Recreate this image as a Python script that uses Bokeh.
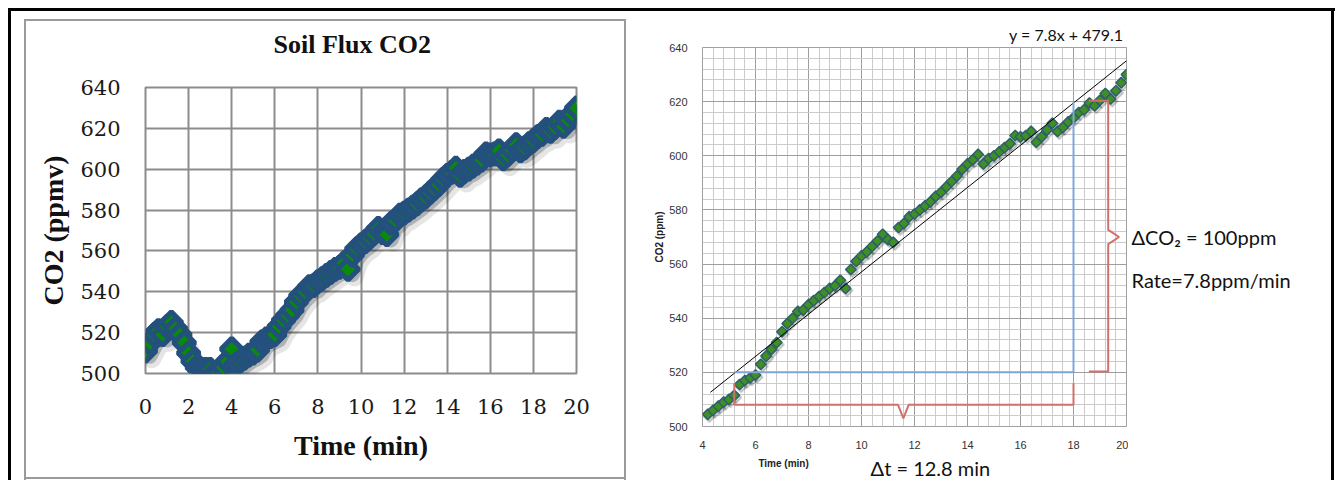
import math
from bokeh.plotting import figure
from bokeh.models import ColumnDataSource, SingleIntervalTicker, Range1d
from bokeh.layouts import row, column
from bokeh.transform import dodge
from bokeh.core.properties import value
from bokeh.embed import file_html
from bokeh.resources import INLINE

# ---------------- data ----------------
time_min = [
    0.0, 0.2, 0.4, 0.6, 0.8, 1.0, 1.2, 1.4, 1.6, 1.8,
    2.0, 2.2, 2.4, 2.6, 2.8, 3.0, 3.2, 3.4, 3.6, 3.8,
    4.0, 4.2, 4.4, 4.6, 4.8, 5.0, 5.2, 5.4, 5.6, 5.8,
    6.0, 6.2, 6.4, 6.6, 6.8, 7.0, 7.2, 7.4, 7.6, 7.8,
    8.0, 8.2, 8.4, 8.6, 8.8, 9.0, 9.2, 9.4, 9.6, 9.8,
    10.0, 10.2, 10.4, 10.6, 10.8, 11.0, 11.2, 11.4, 11.6, 11.8,
    12.0, 12.2, 12.4, 12.6, 12.8, 13.0, 13.2, 13.4, 13.6, 13.8,
    14.0, 14.2, 14.4, 14.6, 14.8, 15.0, 15.2, 15.4, 15.6, 15.8,
    16.0, 16.2, 16.4, 16.6, 16.8, 17.0, 17.2, 17.4, 17.6, 17.8,
    18.0, 18.2, 18.4, 18.6, 18.8, 19.0, 19.2, 19.4, 19.6, 19.8,
    20.0,
]
co2_ppm = [
    511, 515, 519, 521, 519, 523, 525, 522, 519, 515,
    510, 506, 503, 502, 502, 502, 500, 501, 503, 506,
    512, 504.5, 506, 507.5, 509, 510, 511.5, 515.5, 517, 518,
    519, 523, 526, 528.5, 531, 535, 538, 540, 542.5, 543,
    545, 546.5, 548, 549.5, 551, 552, 554, 551, 558, 561,
    563, 564.5, 566.5, 568.5, 571, 569, 568, 573.5, 575, 577.5,
    578.5, 580, 581.5, 583, 585, 586.5, 588.5, 590.5, 592.5, 595,
    597, 598.5, 600.5, 597, 599, 600, 601.5, 603, 604.5, 607.5,
    607, 607.5, 609, 605, 607, 609.5, 612, 609, 610.5, 612.5,
    614, 616, 617, 619.5, 618.5, 620.5, 623, 621, 624, 627,
    630,
]
fit_start_min = 4.2          # first sample shown in the right-hand chart
trend_slope = 7.8            # y = 7.8x + 479.1
trend_intercept = 479.1
trend_x = [4.3, 20.0]

# annotation geometry
blue_x = [5.2, 18.0, 18.0]
blue_y = [520, 520, 620]
brace_dt_x = [5.2, 5.2, 11.38, 11.58, 11.78, 18.0, 18.0]
brace_dt_y = [516, 508, 508, 503, 508, 508, 516]
brace_dc_x = [18.58, 19.31, 19.31, 19.72, 19.31, 19.31, 18.58]
brace_dc_y = [620.3, 620.3, 572.6, 570.0, 567.4, 520.3, 520.3]

src = ColumnDataSource(dict(t=time_min, co2=co2_ppm))
sub = [i for i, t in enumerate(time_min) if t >= fit_start_min]
src2 = ColumnDataSource(dict(t=[time_min[i] for i in sub], co2=[co2_ppm[i] for i in sub]))

H = 480
B1 = dict(l=145, r=64, t=87, b=107)

# ---------------- left chart ----------------
p1 = figure(width=640, height=H, x_range=(0, 20), y_range=(500, 640),
            output_backend="svg", toolbar_location=None,
            min_border_left=B1["l"], min_border_right=B1["r"],
            min_border_top=B1["t"], min_border_bottom=B1["b"])
p1.background_fill_color = "white"
p1.border_fill_color = None
p1.outline_line_color = "#8c8c8c"
p1.outline_line_width = 2
p1.title.text = "Soil Flux CO2"
p1.title.align = "left"
p1.title.offset = 128
p1.title.vertical_align = "top"
p1.title.text_font = "Liberation Serif"
p1.title.text_font_style = "bold"
p1.title.text_font_size = "26px"
p1.title.text_color = "#111111"
p1.title.standoff = 54
p1.xaxis.ticker = SingleIntervalTicker(interval=2, num_minor_ticks=0)
p1.yaxis.ticker = SingleIntervalTicker(interval=20, num_minor_ticks=0)
for g in (p1.xgrid, p1.ygrid):
    g.grid_line_color = "#8c8c8c"
    g.grid_line_width = 2
for ax in (p1.xaxis, p1.yaxis):
    ax.axis_line_color = None
    ax.major_tick_line_color = None
    ax.minor_tick_line_color = None
    ax.major_tick_out = 0
    ax.major_tick_in = 0
    ax.major_label_text_font = "DejaVu Serif"
    ax.major_label_text_font_size = "21px"
    ax.major_label_text_color = "#1a1a1a"
    ax.axis_label_text_font = "Liberation Serif"
    ax.axis_label_text_font_style = "bold"
    ax.axis_label_text_font_size = "28px"
    ax.axis_label_text_color = "#111111"
p1.xaxis.axis_label = "Time (min)"
p1.yaxis.axis_label = "CO2 (ppmv)"
p1.xaxis.major_label_standoff = 25
p1.yaxis.major_label_standoff = 25
p1.xaxis.axis_label_standoff = 13
p1.yaxis.axis_label_standoff = 8

# shadow below-right, blue band, then the individual diamond markers
p1.line(x=dodge("t", 0.3), y=dodge("co2", -4.0), source=src, line_color="black",
        line_alpha=0.10, line_width=18, line_join="round", line_cap="round")
p1.line(x=dodge("t", 0.2), y=dodge("co2", -2.6), source=src, line_color="black",
        line_alpha=0.22, line_width=15, line_join="round", line_cap="round")
p1.line("t", "co2", source=src, line_color="#24507e", line_width=15, line_join="round")
p1.scatter("t", "co2", source=src, marker="square", angle=math.pi / 4, size=15,
           fill_color="#0a8a0a", line_color="#24507e", line_width=5)

# ---------------- right chart ----------------
p2 = figure(width=488, height=452, x_range=(4, 20), y_range=(500, 640),
            output_backend="svg", toolbar_location=None,
            min_border_left=62, min_border_right=2,
            min_border_top=47, min_border_bottom=26)
p2.background_fill_color = "white"
p2.border_fill_color = None
p2.outline_line_color = "#a0a0a0"
p2.outline_line_width = 1
p2.title.text = "y = 7.8x + 479.1"
p2.title.align = "right"
p2.title.offset = 3
p2.title.standoff = 7
p2.title.text_font = "Lato"
p2.title.text_font_style = "normal"
p2.title.text_font_size = "16px"
p2.title.text_color = "#111111"
p2.xaxis.ticker = SingleIntervalTicker(interval=2, num_minor_ticks=5)
p2.yaxis.ticker = SingleIntervalTicker(interval=20, num_minor_ticks=5)
for g in (p2.xgrid, p2.ygrid):
    g.grid_line_color = "#9e9e9e"
    g.grid_line_width = 1
    g.minor_grid_line_color = "#cccccc"
    g.minor_grid_line_width = 1
for ax in (p2.xaxis, p2.yaxis):
    ax.axis_line_color = None
    ax.major_tick_line_color = None
    ax.minor_tick_line_color = None
    ax.major_tick_out = 0
    ax.major_tick_in = 0
    ax.major_label_text_font = "Liberation Sans"
    ax.major_label_text_font_size = "11px"
    ax.major_label_text_color = "#333333"
p2.xaxis.major_label_standoff = 10
p2.yaxis.major_label_standoff = 11
p2.yaxis.axis_label = "CO2 (ppm)"
p2.yaxis.axis_label_text_font = "Liberation Sans"
p2.yaxis.axis_label_text_font_style = "bold"
p2.yaxis.axis_label_text_font_size = "10px"
p2.yaxis.axis_label_text_color = "#222222"
p2.yaxis.axis_label_standoff = 1

p2.scatter(x=dodge("t", 0.06), y=dodge("co2", -0.8), source=src2, marker="square",
           angle=math.pi / 4, size=8, fill_color="black", line_color="black",
           fill_alpha=0.15, line_alpha=0.15, line_width=2)
p2.scatter("t", "co2", source=src2, marker="square", angle=math.pi / 4, size=7.5,
           fill_color="#3f8f22", line_color="#2d5f6c", line_width=1.5)

p2.line(trend_x, [trend_slope * x + trend_intercept for x in trend_x],
        line_color="black", line_width=1)
p2.line(blue_x, blue_y, line_color="#7ea7d8", line_width=2)
p2.line(brace_dt_x, brace_dt_y, line_color="#d0706b", line_width=2)
p2.line(brace_dc_x, brace_dc_y, line_color="#d0706b", line_width=2)

# ---------------- text strips beside / below the right chart ----------------
p4 = figure(width=488, height=28, x_range=p2.x_range, y_range=Range1d(0, 28),
            output_backend="svg", toolbar_location=None,
            x_axis_type=None, y_axis_type=None,
            min_border_left=62, min_border_right=2, min_border_top=0, min_border_bottom=0)
p4.outline_line_color = None
p4.background_fill_color = None
p4.border_fill_color = None
p4.grid.visible = False
p4.text(x=[7.06], y=[17], text=["Time (min)"], text_align="center", text_baseline="middle",
        text_font=value("Liberation Sans"), text_font_style="bold", text_font_size="10px",
        text_color="#222222")
p4.text(x=[12.6], y=[13], text=["Δt = 12.8 min"], text_align="center", text_baseline="middle",
        text_font=value("Lato"), text_font_size="20px", text_color="#111111")

# p3 sits in the same row as p1, so its frame is aligned with p1's frame;
# its y range is expressed as pixels measured up from the bottom of the canvas.
p3 = figure(width=207, height=H, x_range=Range1d(0, 207),
            y_range=Range1d(B1["b"], H - B1["t"]),
            output_backend="svg", toolbar_location=None,
            x_axis_type=None, y_axis_type=None,
            min_border_left=0, min_border_right=0,
            min_border_top=B1["t"], min_border_bottom=B1["b"])
p3.outline_line_color = None
p3.background_fill_color = None
p3.border_fill_color = None
p3.grid.visible = False
p3.text(x=[3], y=[H - 236], text=["ΔCO₂ = 100ppm"], text_align="left", text_baseline="middle",
        text_font=value("Lato"), text_font_size="20px", text_color="#111111")
p3.text(x=[3], y=[H - 279], text=["Rate=7.8ppm/min"], text_align="left", text_baseline="middle",
        text_font=value("Lato"), text_font_size="20px", text_color="#111111")

# black outer frame and grey box round the left chart
frame_css = ", ".join([
    "linear-gradient(#000,#000) 8px 8px / 3px 480px no-repeat",
    "linear-gradient(#000,#000) 8px 8px / 1327px 3px no-repeat",
    "linear-gradient(#000,#000) 1331px 8px / 3px 480px no-repeat",
    "linear-gradient(#9a9a9a,#9a9a9a) 24px 19px / 2px 461px no-repeat",
    "linear-gradient(#9a9a9a,#9a9a9a) 24px 19px / 602px 2px no-repeat",
    "linear-gradient(#9a9a9a,#9a9a9a) 624px 19px / 2px 461px no-repeat",
    "linear-gradient(#9a9a9a,#9a9a9a) 24px 477px / 602px 2px no-repeat",
    "#ffffff",
])

layout = row(p1, column(p2, p4), p3, styles={"background": frame_css})
open("out.html", "w").write(file_html(layout, INLINE))
